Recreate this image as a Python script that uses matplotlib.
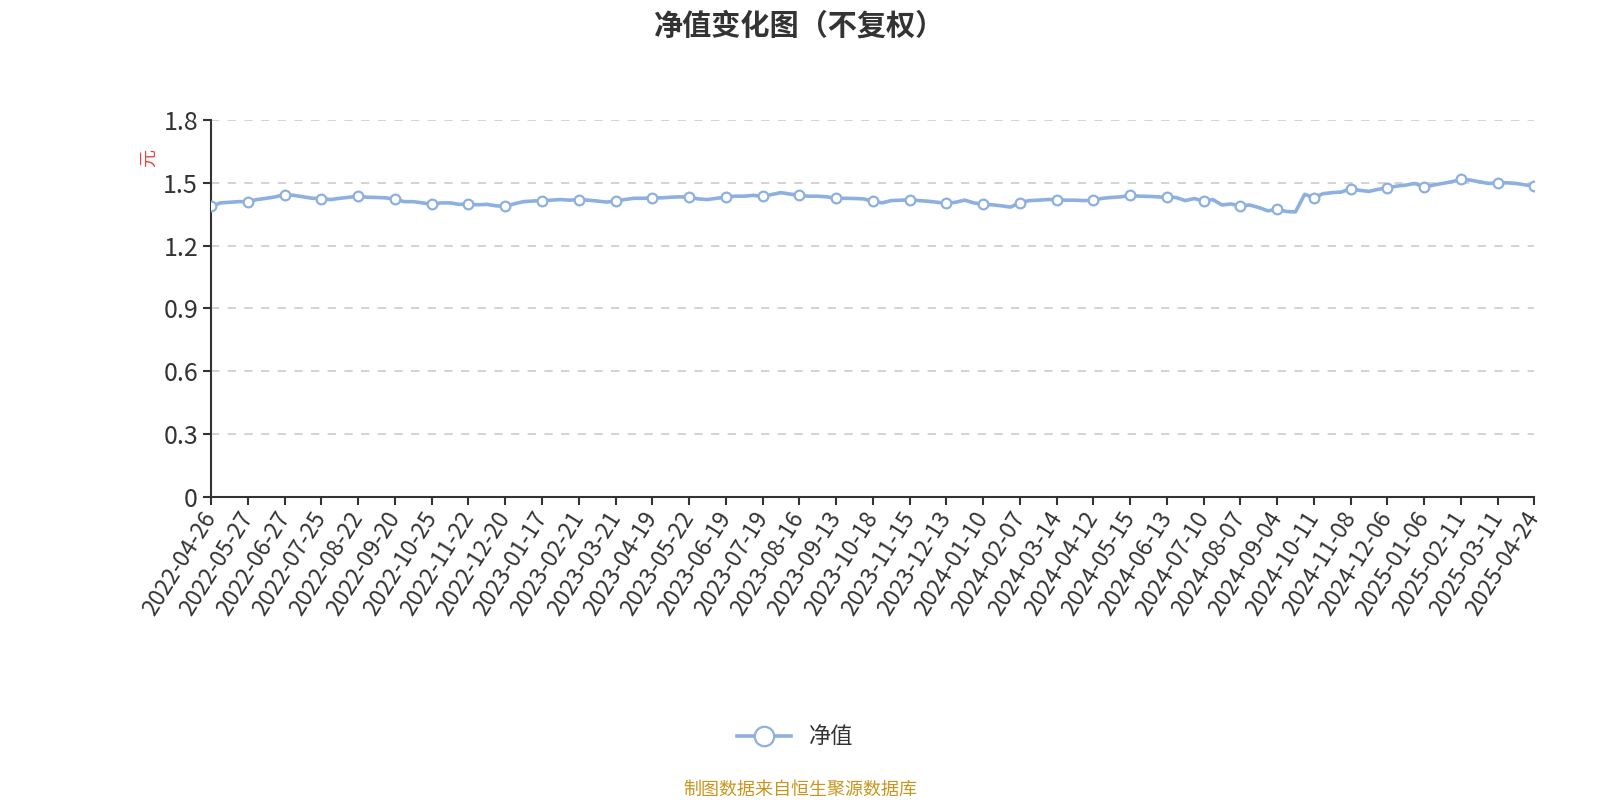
import matplotlib
matplotlib.use('Agg')
import matplotlib.pyplot as plt
import numpy as np

plt.rcParams['font.family'] = ['Noto Sans CJK SC', 'DejaVu Sans']

# 刻度日期 (每4个数据点一个)
tick_dates = ['2022-04-26', '2022-05-27', '2022-06-27', '2022-07-25', '2022-08-22',
              '2022-09-20', '2022-10-25', '2022-11-22', '2022-12-20', '2023-01-17',
              '2023-02-21', '2023-03-21', '2023-04-19', '2023-05-22', '2023-06-19',
              '2023-07-19', '2023-08-16', '2023-09-13', '2023-10-18', '2023-11-15',
              '2023-12-13', '2024-01-10', '2024-02-07', '2024-03-14', '2024-04-12',
              '2024-05-15', '2024-06-13', '2024-07-10', '2024-08-07', '2024-09-04',
              '2024-10-11', '2024-11-08', '2024-12-06', '2025-01-06', '2025-02-11',
              '2025-03-11', '2025-04-24']
step = 4

# 净值
nav = [1.387, 1.404, 1.407, 1.410,
       1.410, 1.420, 1.426, 1.433,
       1.444, 1.440, 1.433, 1.426,
       1.425, 1.420, 1.426, 1.431,
       1.436, 1.431, 1.430, 1.428,
       1.422, 1.410, 1.410, 1.404,
       1.397, 1.404, 1.404, 1.397,
       1.399, 1.395, 1.397, 1.390,
       1.387, 1.400, 1.410, 1.413,
       1.415, 1.417, 1.420, 1.417,
       1.420, 1.417, 1.413, 1.408,
       1.412, 1.420, 1.426, 1.426,
       1.428, 1.428, 1.431, 1.433,
       1.431, 1.423, 1.420, 1.426,
       1.431, 1.436, 1.436, 1.440,
       1.435, 1.444, 1.453, 1.446,
       1.440, 1.436, 1.436, 1.433,
       1.426, 1.426, 1.425, 1.423,
       1.412, 1.404, 1.415, 1.417,
       1.418, 1.415, 1.412, 1.407,
       1.402, 1.407, 1.417, 1.404,
       1.397, 1.395, 1.390, 1.384,
       1.405, 1.415, 1.417, 1.420,
       1.420, 1.417, 1.417, 1.415,
       1.417, 1.426, 1.430, 1.433,
       1.440, 1.436, 1.435, 1.433,
       1.430, 1.430, 1.415, 1.425,
       1.412, 1.420, 1.394, 1.399,
       1.389, 1.394, 1.382, 1.366,
       1.373, 1.363, 1.361, 1.445,
       1.428, 1.448, 1.453, 1.456,
       1.472, 1.464, 1.459, 1.469,
       1.475, 1.484, 1.489, 1.497,
       1.479, 1.489, 1.497, 1.505,
       1.516, 1.513, 1.505, 1.497,
       1.500, 1.500, 1.497, 1.490,
       1.485]

yticks = [0, 0.3, 0.6, 0.9, 1.2, 1.5, 1.8]

line_color = '#8DB0E0'
x = np.arange(len(nav))

fig = plt.figure(figsize=(16, 8), dpi=100)
ax = fig.add_axes([0.132, 0.379, 0.827, 0.471])

ax.plot(x, nav, color=line_color, lw=2.6, marker='o', markevery=step,
        markersize=7, markerfacecolor='white', markeredgecolor=line_color,
        markeredgewidth=1.6, label='净值', zorder=3)

ax.set_xlim(0, len(nav) - 1)
ax.set_ylim(0, 1.8)
ax.set_yticks(yticks)
ax.set_yticklabels(['0', '0.3', '0.6', '0.9', '1.2', '1.5', '1.8'], fontsize=18, color='#333333')
ax.set_xticks(x[::step])
ax.set_xticklabels(tick_dates, rotation=58, ha='right', va='center', rotation_mode='anchor',
                   fontsize=16.5, color='#333333')

ax.grid(axis='y', linestyle=(0, (5, 5)), color='#cccccc', lw=1.2)
ax.set_axisbelow(True)
for s in ['top', 'right']:
    ax.spines[s].set_visible(False)
ax.spines['left'].set_color('#333333')
ax.spines['bottom'].set_color('#333333')
ax.spines['left'].set_linewidth(1.5)
ax.spines['bottom'].set_linewidth(1.5)
ax.tick_params(axis='both', length=6, width=1.5, color='#333333')
ax.tick_params(axis='x', pad=6)

ax.set_ylabel('元', color='#e8423b', fontsize=13, rotation=90)
ax.yaxis.set_label_coords(-0.04, 0.9)

fig.text(0.5, 0.968, '净值变化图（不复权）', ha='center', va='center',
         fontsize=21, fontweight='bold', color='#333333')

fig.legend(loc='center', bbox_to_anchor=(0.497, 0.079), frameon=False, fontsize=16,
           handlelength=2.4, markerscale=2.0, labelcolor='#333333')

fig.text(0.5, 0.013, '制图数据来自恒生聚源数据库', ha='center', va='center',
         fontsize=13, color='#C8961E')

fig.savefig('out.png', dpi=100)
